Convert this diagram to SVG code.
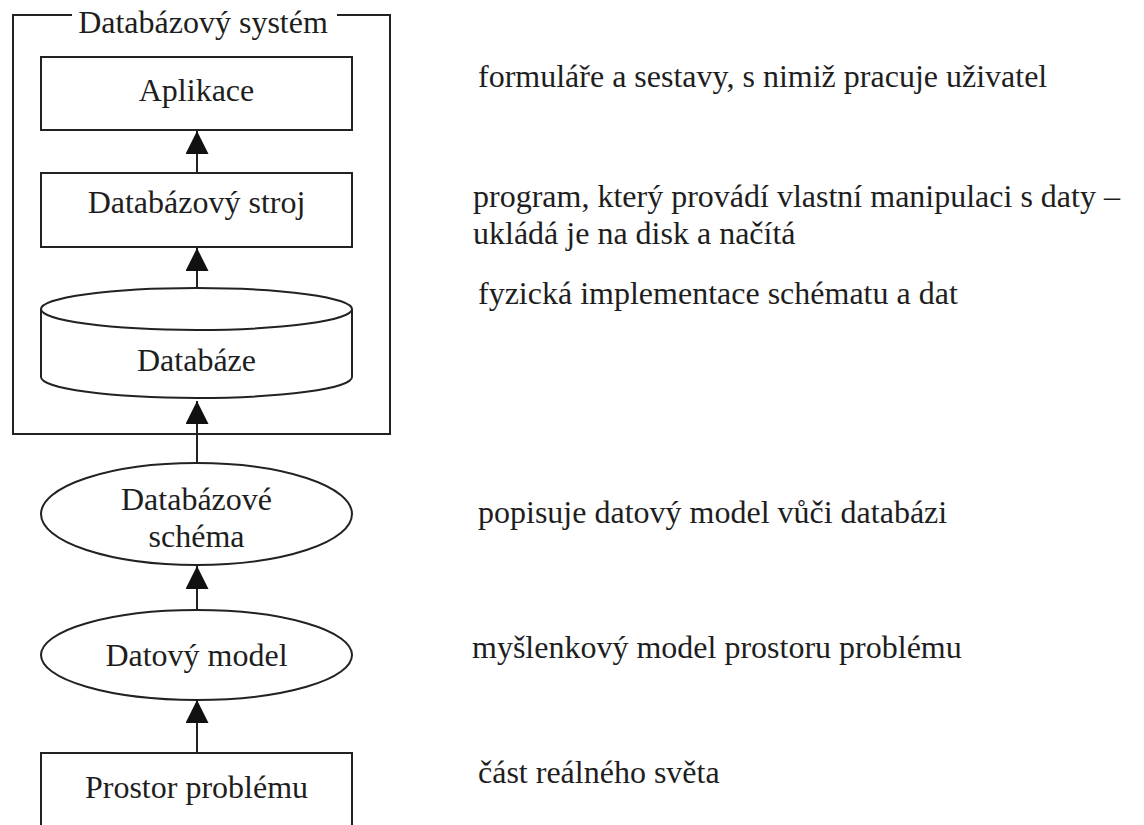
<svg xmlns="http://www.w3.org/2000/svg" width="1144" height="825" viewBox="0 0 1144 825">
  <style>
    .shape { fill: #fff; stroke: #222; stroke-width: 2; }
    .frame { fill: none; stroke: #222; stroke-width: 2; }
    .edge { stroke: #222; stroke-width: 2; fill: none; marker-end: url(#head); }
    text { font-family: "Liberation Serif", "Times New Roman", serif; font-size: 32px; fill: #1e1e1e; }
    .c { text-anchor: middle; }
  </style>
  <defs>
    <marker id="head" markerUnits="userSpaceOnUse" markerWidth="24" markerHeight="24" refX="23" refY="11.5" orient="auto">
      <path d="M0,0 L23,11.5 L0,23 Z" fill="#111"/>
    </marker>
  </defs>
  <rect width="1144" height="825" fill="#fff"/>

  <!-- system frame with its caption set into the top edge -->
  <g id="system">
    <path class="frame" d="M72,15 H13 V434 H390 V15 H337"/>
    <text class="c" x="203" y="33">Databázový systém</text>
  </g>

  <g id="aplikace">
    <rect class="shape" x="41" y="57" width="311" height="73"/>
    <text class="c" x="196.5" y="101">Aplikace</text>
  </g>

  <g id="stroj">
    <rect class="shape" x="41" y="173" width="311" height="74"/>
    <text class="c" x="196.5" y="213">Databázový stroj</text>
  </g>

  <g id="databaze">
    <path class="shape" d="M41,309 V377 A155.5,21 0 0 0 352,377 V309"/>
    <ellipse class="shape" cx="196.5" cy="309" rx="155.5" ry="21"/>
    <text class="c" x="196.5" y="371">Databáze</text>
  </g>

  <g id="schema">
    <ellipse class="shape" cx="196.5" cy="514" rx="155.5" ry="51"/>
    <text class="c" x="196.5" y="510">Databázové</text>
    <text class="c" x="196.5" y="547">schéma</text>
  </g>

  <g id="model">
    <ellipse class="shape" cx="196.5" cy="655" rx="155.5" ry="45"/>
    <text class="c" x="196.5" y="666">Datový model</text>
  </g>

  <g id="prostor">
    <rect class="shape" x="41" y="753" width="311" height="90"/>
    <text class="c" x="196.5" y="798">Prostor problému</text>
  </g>

  <g id="connectors">
    <line class="edge" x1="197" y1="173" x2="197" y2="131"/>
    <line class="edge" x1="197" y1="288" x2="197" y2="248"/>
    <line class="edge" x1="197" y1="463" x2="197" y2="401"/>
    <line class="edge" x1="197" y1="610" x2="197" y2="566"/>
    <line class="edge" x1="197" y1="753" x2="197" y2="700"/>
  </g>

  <!-- descriptions of each layer -->
  <g id="notes">
    <text x="478" y="87">formuláře a sestavy, s nimiž pracuje uživatel</text>
    <text x="473" y="207">program, který provádí vlastní manipulaci s daty –</text>
    <text x="473" y="244">ukládá je na disk a načítá</text>
    <text x="478" y="304">fyzická implementace schématu a dat</text>
    <text x="478" y="523">popisuje datový model vůči databázi</text>
    <text x="472" y="658">myšlenkový model prostoru problému</text>
    <text x="478" y="783">část reálného světa</text>
  </g>
</svg>
